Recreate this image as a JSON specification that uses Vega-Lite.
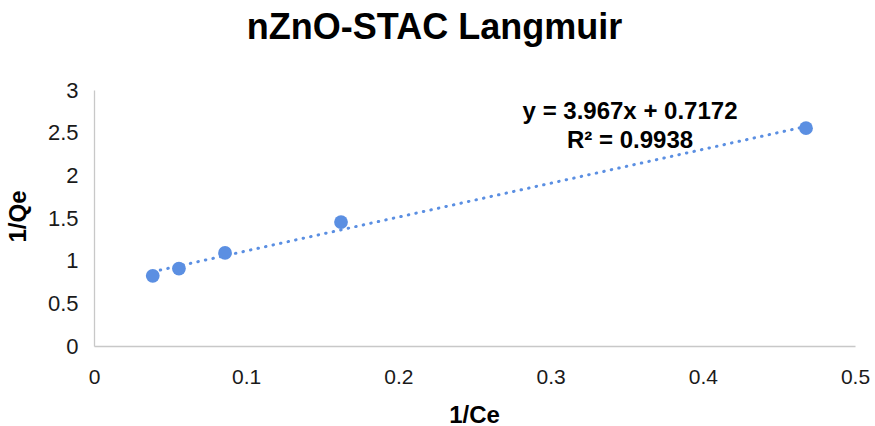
{
  "$schema": "https://vega.github.io/schema/vega-lite/v6.json",
  "autosize": "none",
  "width": 761,
  "height": 256,
  "padding": {"left": 94, "top": 90, "right": 20, "bottom": 80},
  "background": "white",
  "title": {
    "text": "nZnO-STAC Langmuir",
    "font": "Liberation Sans",
    "fontSize": 36,
    "fontWeight": "bold",
    "color": "#000000",
    "anchor": "middle",
    "dx": -40,
    "baseline": "alphabetic",
    "offset": 4
  },
  "config": {
    "view": {"stroke": null},
    "font": "Liberation Sans"
  },
  "datasets": {
    "points": [
      {"inv_ce": 0.0386, "inv_qe": 0.822},
      {"inv_ce": 0.0558, "inv_qe": 0.908},
      {"inv_ce": 0.0861, "inv_qe": 1.091},
      {"inv_ce": 0.1623, "inv_qe": 1.452},
      {"inv_ce": 0.4678, "inv_qe": 2.552}
    ],
    "trend": [
      {"inv_ce": 0.0386, "inv_qe": 0.8703},
      {"inv_ce": 0.4678, "inv_qe": 2.5730}
    ]
  },
  "layer": [
    {
      "data": {"name": "trend"},
      "mark": {
        "type": "line",
        "color": "#5B8FE2",
        "strokeWidth": 3,
        "strokeCap": "round",
        "strokeDash": [0.5, 7.2]
      },
      "encoding": {
        "x": {
          "field": "inv_ce",
          "type": "quantitative",
          "scale": {"domain": [0, 0.5], "nice": false},
          "axis": {
            "title": "1/Ce",
            "values": [0, 0.1, 0.2, 0.3, 0.4, 0.5],
            "format": "~g",
            "grid": false,
            "ticks": false,
            "domainColor": "#c8c8c8",
            "domainWidth": 1.3,
            "labelFont": "Liberation Sans",
            "labelFontSize": 21,
            "labelColor": "#1a1a1a",
            "labelPadding": 20,
            "labelFlush": false,
            "titleFont": "Liberation Sans",
            "titleFontSize": 24,
            "titleFontWeight": "bold",
            "titleColor": "#000000",
            "titleX": 380,
            "titleY": 76,
            "titleBaseline": "alphabetic"
          }
        },
        "y": {
          "field": "inv_qe",
          "type": "quantitative",
          "scale": {"domain": [0, 3], "nice": false},
          "axis": {
            "title": "1/Qe",
            "values": [0, 0.5, 1, 1.5, 2, 2.5, 3],
            "format": "~g",
            "grid": false,
            "ticks": false,
            "domainColor": "#c8c8c8",
            "domainWidth": 1.3,
            "labelFont": "Liberation Sans",
            "labelFontSize": 22,
            "labelColor": "#1a1a1a",
            "labelPadding": 16,
            "labelFlush": false,
            "titleFont": "Liberation Sans",
            "titleFontSize": 24,
            "titleFontWeight": "bold",
            "titleColor": "#000000",
            "titleAngle": -90,
            "titleX": -76,
            "titleY": 126,
            "titleBaseline": "middle",
            "titleAlign": "center"
          }
        }
      }
    },
    {
      "data": {"name": "points"},
      "mark": {"type": "circle", "color": "#5B8FE2", "opacity": 1, "size": 190},
      "encoding": {
        "x": {"field": "inv_ce", "type": "quantitative"},
        "y": {"field": "inv_qe", "type": "quantitative"}
      }
    },
    {
      "data": {"values": [{"equation": ["y = 3.967x + 0.7172", "R² = 0.9938"]}]},
      "mark": {
        "type": "text",
        "font": "Liberation Sans",
        "fontSize": 24,
        "fontWeight": "bold",
        "color": "#000000",
        "align": "center",
        "baseline": "alphabetic",
        "lineHeight": 29
      },
      "encoding": {
        "text": {"field": "equation"},
        "x": {"datum": 0.3522, "type": "quantitative"},
        "y": {"datum": 2.657, "type": "quantitative"}
      }
    }
  ]
}
